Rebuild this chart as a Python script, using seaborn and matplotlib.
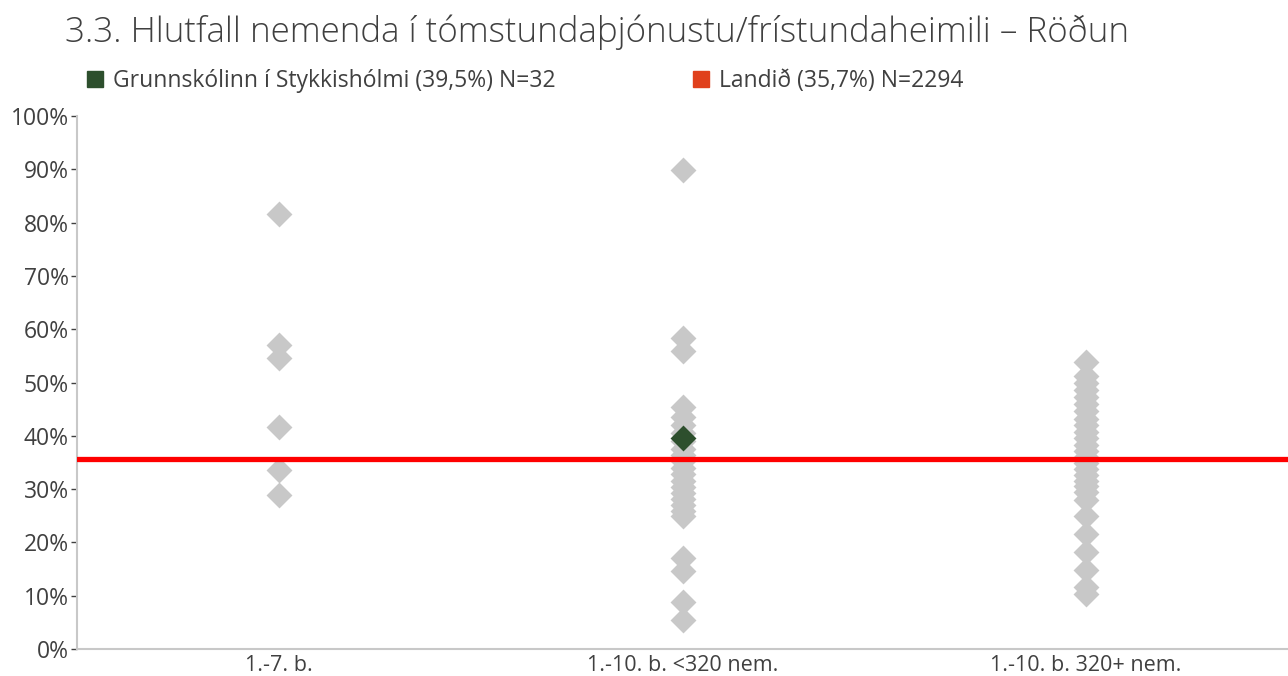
import numpy as np
import pandas as pd
import matplotlib
matplotlib.use("Agg")
import matplotlib.pyplot as plt
from matplotlib.lines import Line2D
from matplotlib.ticker import FuncFormatter
import seaborn as sns

# Flokkar skóla
categories = ["1.-7. b.", "1.-10. b. <320 nem.", "1.-10. b. 320+ nem."]

# Hlutfall (%) fyrir hvern skóla í hverjum flokki
group_small = [81.6, 57.0, 54.6, 41.7, 33.6, 28.9]
group_mid = [89.9, 58.3, 55.9, 45.4, 43.6, 42.0, 40.5, 39.0, 37.6, 36.4, 35.2,
             34.0, 32.8, 31.6, 30.4, 29.3, 28.2, 27.0, 25.9, 24.9,
             17.1, 14.6, 8.8, 5.4]
group_large = [53.8, 51.3, 50.0, 48.6, 47.3, 46.0, 44.6, 43.2, 42.0, 40.8,
               39.5, 38.3, 37.2, 36.0, 34.9, 33.8, 32.7, 31.6, 30.5, 29.4,
               28.0, 25.0, 21.6, 18.2, 14.8, 11.6, 10.3]

school_name = "Grunnskólinn í Stykkishólmi"
school_value = 39.5
school_n = 32
school_category = categories[1]
national_value = 35.7
national_n = 2294

yticks = list(range(0, 101, 10))

title = "3.3. Hlutfall nemenda í tómstundaþjónustu/frístundaheimili – Röðun"

df = pd.DataFrame({
    "flokkur": [categories[0]] * len(group_small)
               + [categories[1]] * len(group_mid)
               + [categories[2]] * len(group_large),
    "hlutfall": group_small + group_mid + group_large,
})
df_school = pd.DataFrame({"flokkur": [school_category], "hlutfall": [school_value]})

sns.set_theme(style="white")
plt.rcParams["font.family"] = ["Open Sans", "DejaVu Sans"]

GRAY = "#c8c8c8"
GREEN = "#2d4f2d"
RED = "#ff0000"
LEG_RED = "#e0401c"
TEXT = "#404040"
FS = 16.5

fig = plt.figure(figsize=(12.88, 6.76), dpi=100)
ax = fig.add_axes([77 / 1288, 1 - 649 / 676, (1288 - 77) / 1288, (649 - 116) / 676])

sns.stripplot(data=df, x="flokkur", y="hlutfall", order=categories, jitter=False,
              marker="D", size=13.2, color=GRAY, linewidth=0, ax=ax, zorder=2)
ax.axhline(national_value, color=RED, linewidth=3.8, zorder=3)
sns.stripplot(data=df_school, x="flokkur", y="hlutfall", order=categories, jitter=False,
              marker="D", size=13.2, color=GREEN, linewidth=0, ax=ax, zorder=4)

ax.set_xlim(-0.5, 2.5)
ax.set_ylim(0, 100)
ax.set_yticks(yticks)
ax.yaxis.set_major_formatter(FuncFormatter(lambda v, _: f"{v:.0f}%"))
ax.set_xlabel("")
ax.set_ylabel("")

for side in ["top", "right"]:
    ax.spines[side].set_visible(False)
for side in ["left", "bottom"]:
    ax.spines[side].set_color(GRAY)
    ax.spines[side].set_linewidth(1.5)

ax.tick_params(axis="y", which="major", left=True, length=4, width=1, color=TEXT,
               labelsize=FS, labelcolor=TEXT, pad=2)
ax.tick_params(axis="x", which="major", bottom=False, labelsize=15.5, labelcolor=TEXT, pad=-2)

fig.text(65 / 1288, 1 - 32 / 676, title, fontsize=25.2, fontweight="light",
         color=TEXT, va="center", ha="left")

handles = [
    Line2D([], [], marker="s", linestyle="none", markersize=11, color=GREEN,
           label=f"{school_name} ({school_value:.1f}%) N={school_n}".replace(".", ",")),
    Line2D([], [], marker="s", linestyle="none", markersize=11, color=LEG_RED,
           label=f"Landið ({national_value:.1f}%) N={national_n}".replace(".", ",")),
]
fig.legend(handles=handles, loc="center left", bbox_to_anchor=(83.5 / 1288, 1 - 81 / 676),
           ncol=2, frameon=False, fontsize=FS, labelcolor=TEXT, handletextpad=0.28,
           handlelength=1.0, columnspacing=5.86, borderaxespad=0, borderpad=0)

fig.savefig("out.png", dpi=100)
